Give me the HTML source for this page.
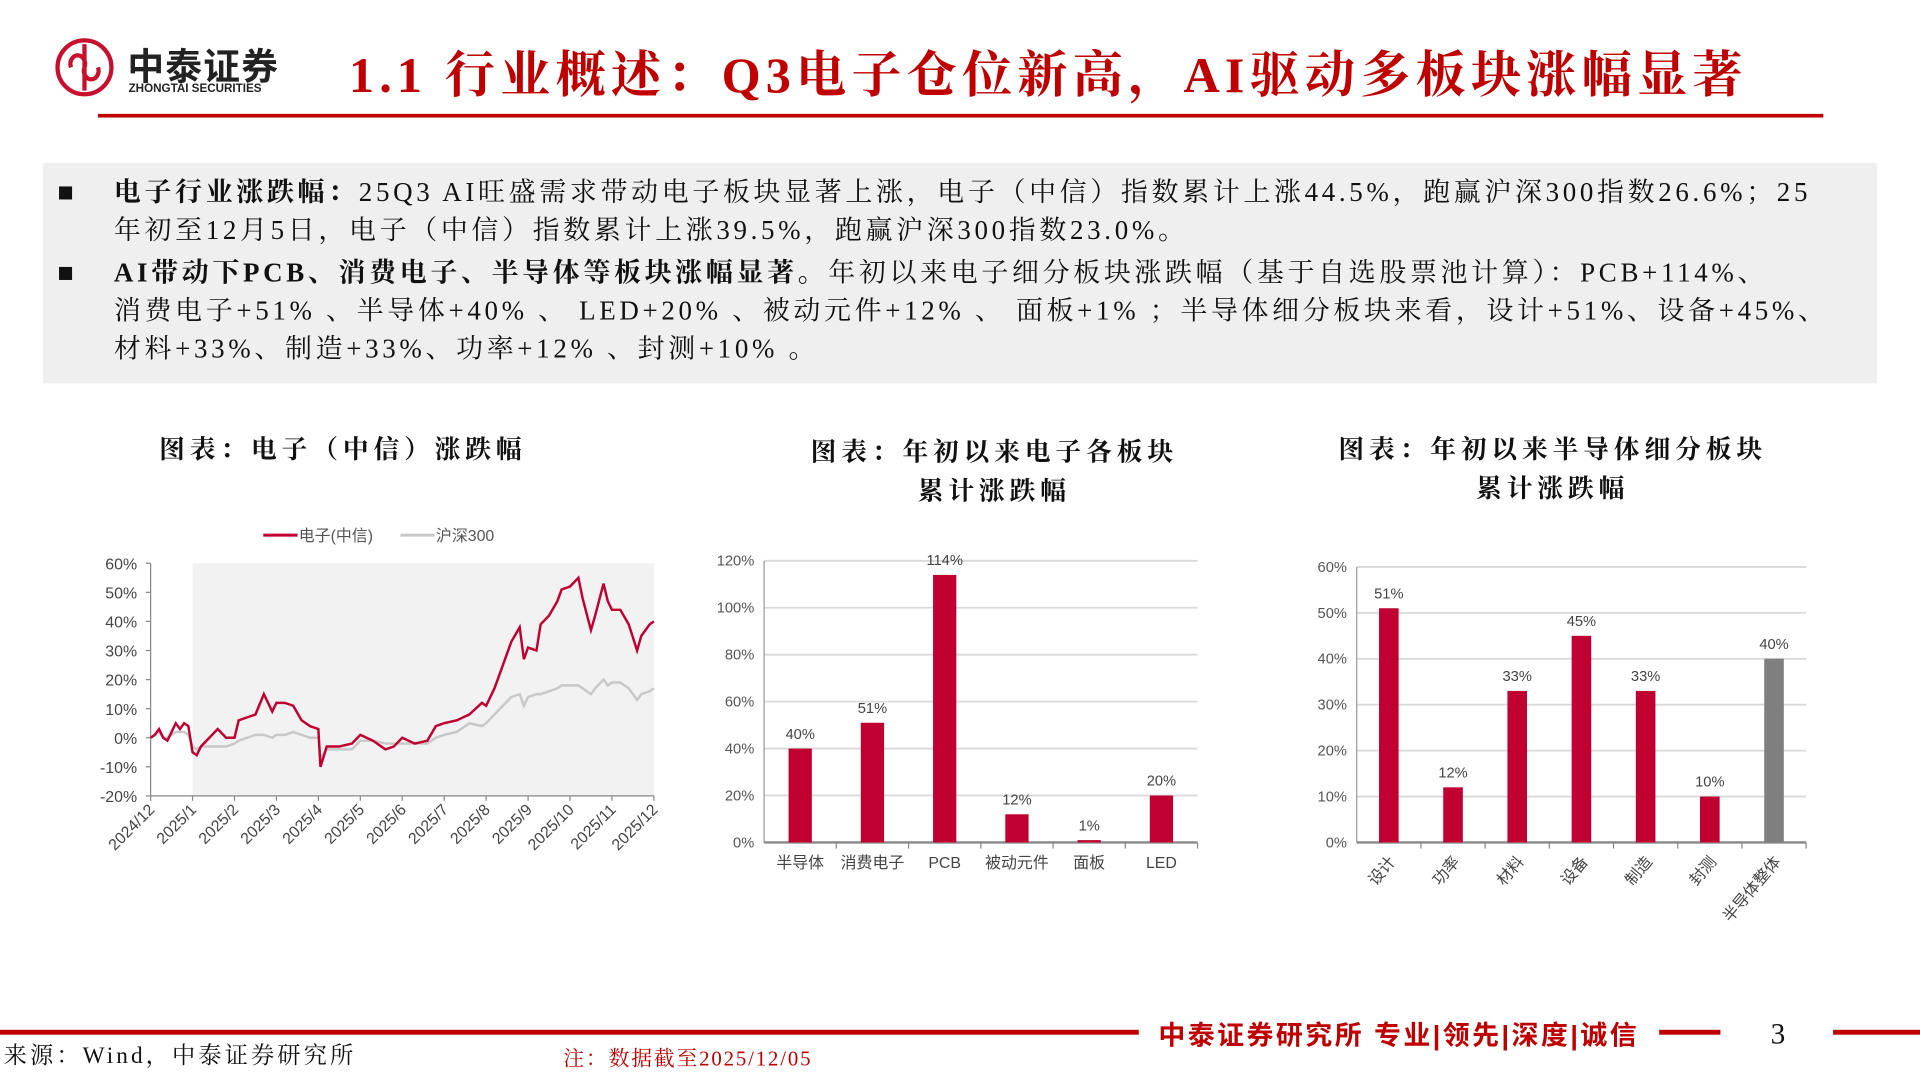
<!DOCTYPE html>
<html><head><meta charset="utf-8">
<style>
html,body{margin:0;padding:0;background:#fff;width:1920px;height:1080px;overflow:hidden}
#w{position:absolute;left:0;top:0;width:1568px;height:882px;transform:scale(1.22449);transform-origin:0 0}
.serif{font-family:"Liberation Serif","Noto Serif CJK SC",serif}
.sans{font-family:"Liberation Sans","Noto Sans CJK SC",sans-serif}
.abs{position:absolute}
.bul{font-size:22px;line-height:31px;color:#111;letter-spacing:3px;white-space:nowrap}
.ct{font-size:21px;font-weight:bold;text-align:center;line-height:32px;color:#111;letter-spacing:4px}
</style></head><body>
<div id="w">
<div class="abs" style="left:44px;top:30px;width:190px;height:52px">
<svg width="52" height="52"><circle cx="25" cy="25" r="22" fill="none" stroke="#c8102e" stroke-width="3.5"/><path d="M25 6 V44 M14 25 a6 7 0 1 1 11 0 a6 7 0 1 0 11 0" fill="none" stroke="#c8102e" stroke-width="3.5"/></svg>
<div class="abs sans" style="left:60px;top:0px;font-size:30px;font-weight:bold;color:#222;letter-spacing:1px;white-space:nowrap">中泰证券</div>
<div class="abs sans" style="left:61px;top:37px;font-size:9.5px;font-weight:bold;color:#222;white-space:nowrap">ZHONGTAI SECURITIES</div>
</div>
<div class="abs serif" style="left:285px;top:28px;font-size:41px;font-weight:bold;color:#c00000;white-space:nowrap;letter-spacing:4.2px">1.1 行业概述：Q3电子仓位新高，AI驱动多板块涨幅显著</div>
<div class="abs" style="left:80px;top:93px;width:1409px;height:3px;background:#c00000"></div>

<div class="abs serif" style="left:35px;top:133px;width:1498px;height:180px;background:#efefef">
<div class="abs bul" style="left:12px;top:8px">■</div>
<div class="abs bul" style="left:58px;top:8px"><b>电子行业涨跌幅：</b>25Q3 AI旺盛需求带动电子板块显著上涨，电子（中信）指数累计上涨44.5%，跑赢沪深300指数26.6%；25<br>年初至12月5日，电子（中信）指数累计上涨39.5%，跑赢沪深300指数23.0%。</div>
<div class="abs bul" style="left:12px;top:74px">■</div>
<div class="abs bul" style="left:58px;top:74px"><b>AI带动下PCB、消费电子、半导体等板块涨幅显著。</b>年初以来电子细分板块涨跌幅（基于自选股票池计算）：PCB+114%、<br>消费电子+51% 、半导体+40% 、 LED+20% 、被动元件+12% 、 面板+1% ；半导体细分板块来看，设计+51%、设备+45%、<br>材料+33%、制造+33%、功率+12% 、封测+10% 。</div>
</div>

<div class="abs serif ct" style="left:80px;top:351px;width:400px">图表：电子（中信）涨跌幅</div>
<div class="abs serif ct" style="left:612px;top:353px;width:400px">图表：年初以来电子各板块<br>累计涨跌幅</div>
<div class="abs serif ct" style="left:1068px;top:351px;width:400px">图表：年初以来半导体细分板块<br>累计涨跌幅</div>

<svg class="abs" style="left:0;top:0" width="1568" height="882" id="charts" font-family="Liberation Sans, Noto Sans CJK SC, sans-serif"></svg>

<div class="abs" style="left:0;top:841px;width:930px;height:4px;background:#c00000"></div>
<div class="abs sans" style="left:946px;top:828px;font-size:22px;font-weight:bold;color:#c00000;white-space:nowrap;letter-spacing:2px">中泰证券研究所 专业|领先|深度|诚信</div>
<div class="abs" style="left:1355px;top:841px;width:50px;height:4px;background:#c00000"></div>
<div class="abs serif" style="left:1446px;top:832px;font-size:24px;color:#111">3</div>
<div class="abs" style="left:1497px;top:841px;width:71px;height:4px;background:#c00000"></div>
<div class="abs serif" style="left:3px;top:847px;font-size:19px;color:#111;letter-spacing:2.5px;white-space:nowrap">来源：Wind，中泰证券研究所</div>
<div class="abs serif" style="left:460px;top:850px;font-size:17px;color:#c00000;letter-spacing:1.5px;white-space:nowrap">注：数据截至2025/12/05</div>
</div>
<script>
const lineMonths=[0,0.1,0.2,0.3,0.4,0.5,0.6,0.7,0.8,0.9,1.0,1.1,1.2,1.4,1.6,1.8,2.0,2.1,2.3,2.5,2.7,2.9,3.0,3.2,3.4,3.6,3.8,4.0,4.05,4.2,4.5,4.8,5.0,5.3,5.6,5.8,6.0,6.3,6.6,6.8,7.0,7.3,7.6,7.9,8.0,8.2,8.4,8.6,8.8,8.9,9.0,9.2,9.3,9.5,9.7,9.8,10.0,10.2,10.3,10.5,10.6,10.8,10.9,11.0,11.2,11.4,11.6,11.7,11.9,12.0];
const elecValues=[0,1,3,0,-1,2,5,3,5,4,-5,-6,-3,0,3,0,0,6,7,8,15,9,12,12,11,6,4,3,-10,-3,-3,-2,1,-1,-4,-3,0,-2,-1,4,5,6,8,12,11,17,25,33,38,27,31,30,39,42,47,51,52,55,48,37,42,53,47,44,44,39,30,35,39,40];
const hsValues=[0,1,2,0,0,1,2,2,2,1,-3,-4,-3,-3,-3,-3,-2,-1,0,1,1,0,1,1,2,1,0,0,-7,-4,-4,-4,-1,-1,-2,-2,-2,-2,-2,0,1,2,5,4,5,8,11,14,15,11,14,15,15,16,17,18,18,18,17,15,17,20,18,19,19,17,13,15,16,17];
const lineYTicks=[-20,-10,0,10,20,30,40,50,60];
const monthLabels=["2024/12","2025/1","2025/2","2025/3","2025/4","2025/5","2025/6","2025/7","2025/8","2025/9","2025/10","2025/11","2025/12"];
const sectorCats=["半导体","消费电子","PCB","被动元件","面板","LED"];
const sectorValues=[40,51,114,12,1,20];
const sectorTicks=[0,20,40,60,80,100,120];
const semiCats=["设计","功率","材料","设备","制造","封测","半导体整体"];
const semiValues=[51,12,33,45,33,10,40];
const semiTicks=[0,10,20,30,40,50,60];

const S=document.getElementById('charts');const NS='http://www.w3.org/2000/svg';
function mk(t,a,txt){const e=document.createElementNS(NS,t);for(const k in a)e.setAttribute(k,a[k]);if(txt!=null)e.textContent=txt;S.appendChild(e);return e;}
const x1=m=>123+m*(534-123)/12, y1=v=>650-(v+20)*(190/80);
let e=mk('rect',{x:x1(1),y:y1(60),width:x1(12)-x1(1),height:y1(-20)-y1(60),fill:'#f2f2f2'});

lineYTicks.forEach(v=>{e=mk('text',{x:112,y:y1(v)+5,'font-size':13,'text-anchor':'end',fill:'#444'},v+'%');

mk('line',{x1:119,x2:123,y1:y1(v),y2:y1(v),stroke:'#888'});});
mk('line',{x1:123,x2:123,y1:y1(60),y2:y1(-20),stroke:'#888'});
mk('line',{x1:123,x2:x1(12),y1:y1(-20),y2:y1(-20),stroke:'#888'});
monthLabels.forEach((l,i)=>{mk('line',{x1:x1(i),x2:x1(i),y1:y1(-20),y2:y1(-20)+4,stroke:'#888'});
e=mk('text',{x:x1(i)+4,y:y1(-20)+12,'font-size':13,'text-anchor':'end',fill:'#444',transform:`rotate(-45 ${x1(i)+4} ${y1(-20)+12})`},l);
});
e=mk('polyline',{points:lineMonths.map((m,i)=>x1(m)+','+y1(hsValues[i])).join(' '),fill:'none',stroke:'#c8c8c8','stroke-width':2});

e=mk('polyline',{points:lineMonths.map((m,i)=>x1(m)+','+y1(elecValues[i])).join(' '),fill:'none',stroke:'#c00030','stroke-width':2});

mk('line',{x1:215,x2:243,y1:437,y2:437,stroke:'#c00030','stroke-width':2.5});
e=mk('text',{x:244,y:442,'font-size':13,fill:'#555'},'电子(中信)');

mk('line',{x1:327,x2:355,y1:437,y2:437,stroke:'#c8c8c8','stroke-width':2.5});
e=mk('text',{x:356,y:442,'font-size':13,fill:'#555'},'沪深300');

function bars(cats,vals,ticks,x0,x1e,yb,yt,max,bw,rot,name){
 const band=(x1e-x0)/cats.length, yv=v=>yb-v*(yb-yt)/max;
 ticks.forEach(v=>{if(v>0)mk('line',{x1:x0,x2:x1e,y1:yv(v),y2:yv(v),stroke:'#d9d9d9','stroke-width':1.5});
  e=mk('text',{x:x0-8,y:yv(v)+4,'font-size':12,'text-anchor':'end',fill:'#555'},v+'%');
  });
 mk('line',{x1:x0,x2:x0,y1:yt,y2:yb,stroke:'#999'});
 mk('line',{x1:x0,x2:x1e,y1:yb,y2:yb,stroke:'#888','stroke-width':2});
 cats.forEach((c,i)=>{const cx=x0+band*(i+0.5);
  mk('line',{x1:x0+band*(i+1),x2:x0+band*(i+1),y1:yb,y2:yb+5,stroke:'#888'});
  e=mk('rect',{x:cx-bw/2,y:yv(vals[i]),width:bw,height:yb-yv(vals[i]),fill:(name==='semi'&&i===cats.length-1)?'#7f7f7f':'#c00030'});
  
  e=mk('text',{x:cx,y:yv(vals[i])-8,'font-size':12,'text-anchor':'middle',fill:'#444'},vals[i]+'%');
  
  if(rot){e=mk('text',{x:cx+6,y:yb+16,'font-size':13,'text-anchor':'end',fill:'#444',transform:`rotate(-50 ${cx+6} ${yb+16})`},c);}
  else{e=mk('text',{x:cx,y:yb+21,'font-size':13,'text-anchor':'middle',fill:'#444'},c);}
  });
}
bars(sectorCats,sectorValues,sectorTicks,624,978,688,458,120,19,false,'sector');
bars(semiCats,semiValues,semiTicks,1108,1475,688,463,60,16,true,'semi');
</script>
</body></html>
